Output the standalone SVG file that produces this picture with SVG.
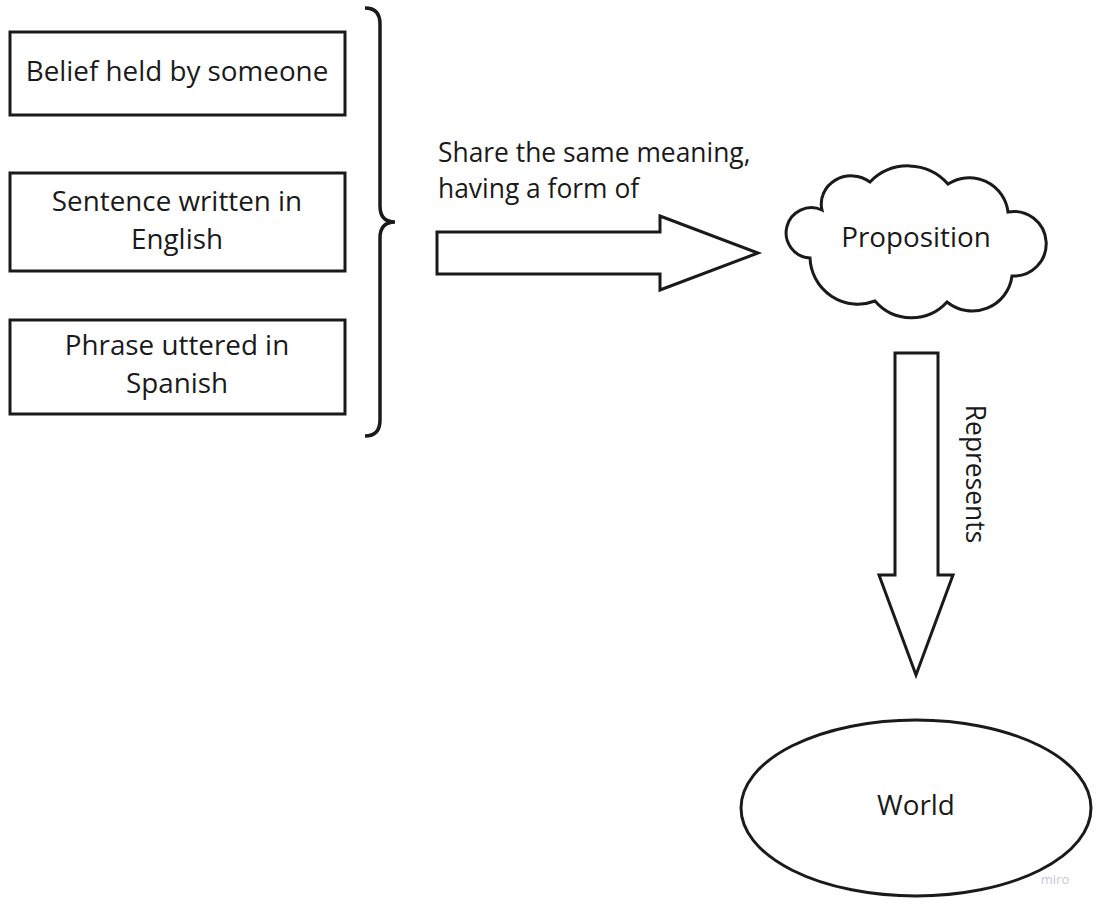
<svg xmlns="http://www.w3.org/2000/svg" width="1098" height="910" viewBox="0 0 1098 910">
<style>
.s{fill:#fff;stroke:#1a1a1a;stroke-width:3;stroke-linejoin:miter}
.t{font-family:"Open Sans","Liberation Sans",sans-serif;font-size:27.8px;fill:#1a1a1a;text-anchor:middle}
.l{font-family:"Open Sans","Liberation Sans",sans-serif;font-size:26.4px;fill:#1a1a1a}
</style>
<rect width="1098" height="910" fill="#fff"/>
<g id="belief"><rect class="s" x="10" y="32" width="335" height="83"/><text class="t" x="177" y="81">Belief held by someone</text></g>
<g id="sentence"><rect class="s" x="10" y="173" width="335" height="98"/><text class="t" x="177" y="211">Sentence written in</text><text class="t" x="177" y="249">English</text></g>
<g id="phrase"><rect class="s" x="10" y="320" width="335" height="94"/><text class="t" x="177" y="355">Phrase uttered in</text><text class="t" x="177" y="393">Spanish</text></g>
<g id="brace"><path d="M365,8 Q380,8 380,24 L380,206 Q380,222 395,222 Q380,222 380,238 L380,420 Q380,436 365,436" fill="none" stroke="#1a1a1a" stroke-width="3.5"/></g>
<g id="proposition"><path class="s" d="M822,210 A30 28 0 0 1 870,182 A53 53 0 0 1 948,184 A39 39 0 0 1 1008,212 A32.3 32.3 0 1 1 1012,276 A40 40 0 0 1 947,302 A48 48 0 0 1 875,301 A48 48 0 0 1 810,258 A25.2 25.2 0 1 1 822,210 Z"/><text class="t" x="916" y="247">Proposition</text></g>
<g id="world"><ellipse class="s" cx="916" cy="808" rx="175" ry="88"/><text class="t" x="916" y="815">World</text></g>
<g id="connectors">
<path class="s" d="M437,232 L660,232 L660,216 L758,253 L660,290 L660,274 L437,274 Z"/>
<text class="l" x="438" y="162">Share the same meaning,</text>
<text class="l" x="438" y="198">having a form of</text>
<path class="s" d="M895,353 L938,353 L938,575 L953,575 L916,675 L879,575 L895,575 Z"/>
<text class="l" font-size="27.5" text-anchor="middle" transform="translate(966,474) rotate(90)">Represents</text>
</g>
<text x="1055" y="884" font-family="'Open Sans',sans-serif" font-size="13" fill="#c8c8d8" text-anchor="middle">miro</text>
</svg>
